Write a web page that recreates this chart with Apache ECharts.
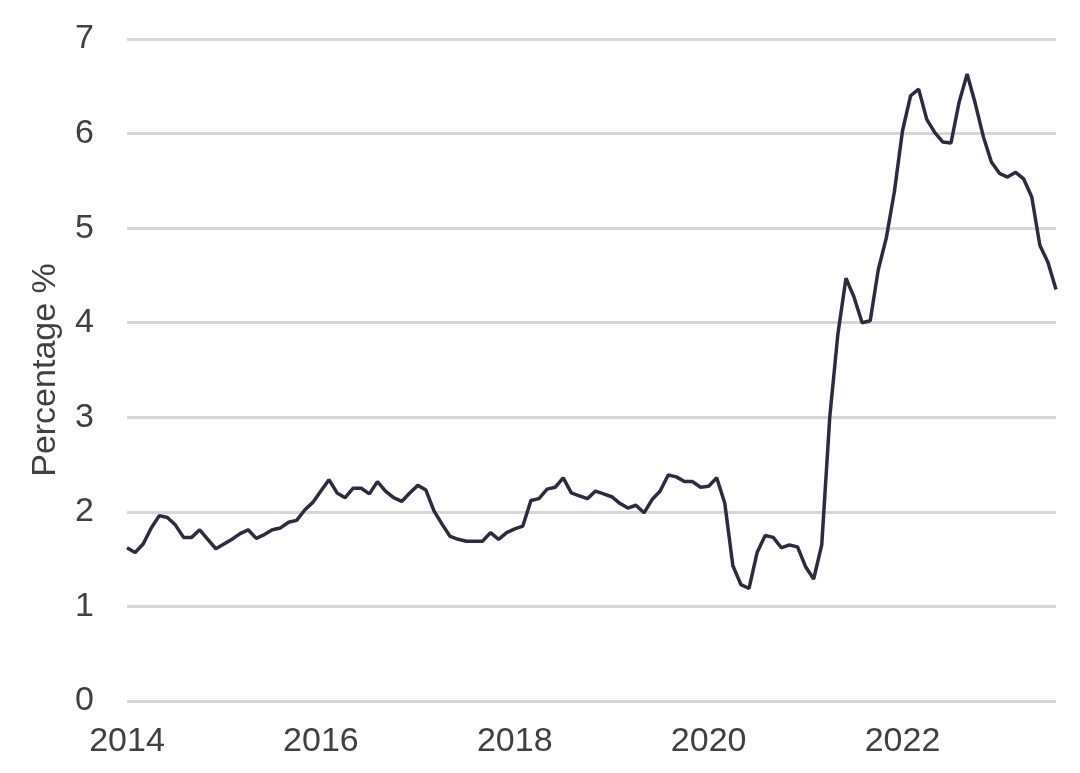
<!DOCTYPE html>
<html>
<head>
<meta charset="utf-8">
<title>Percentage %</title>
<script src="https://cdn.jsdelivr.net/npm/echarts@6/dist/echarts.min.js"></script>
<style>
  html, body { margin: 0; padding: 0; background: #fff; }
  #chart { width: 1080px; height: 773px; }
</style>
</head>
<body>
<div id="chart"></div>
<script>
  // monthly series, Jan 2014 .. Aug 2023
  const startYear = 2014;
  const yearLabels = ['2014', '2016', '2018', '2020', '2022'];
  const values = [
    1.62, 1.57, 1.66, 1.83, 1.96, 1.94, 1.86, 1.73, 1.73, 1.81, 1.71, 1.61,
    1.66, 1.71, 1.77, 1.81, 1.72, 1.76, 1.81, 1.83, 1.89, 1.91, 2.02, 2.10,
    2.22, 2.34, 2.20, 2.15, 2.25, 2.25, 2.19, 2.32, 2.22, 2.15, 2.11, 2.20,
    2.28, 2.23, 2.01, 1.87, 1.74, 1.71, 1.69, 1.69, 1.69, 1.78, 1.71, 1.78,
    1.82, 1.85, 2.12, 2.14, 2.24, 2.26, 2.36, 2.20, 2.17, 2.14, 2.22, 2.19,
    2.16, 2.09, 2.04, 2.07, 1.99, 2.13, 2.22, 2.39, 2.37, 2.32, 2.32, 2.26,
    2.27, 2.36, 2.09, 1.43, 1.23, 1.19, 1.57, 1.75, 1.73, 1.62, 1.65, 1.63,
    1.42, 1.29, 1.65, 3.01, 3.88, 4.47, 4.27, 4.00, 4.02, 4.56, 4.90, 5.39,
    6.03, 6.40, 6.47, 6.15, 6.01, 5.91, 5.90, 6.33, 6.63, 6.32, 5.97, 5.70,
    5.58, 5.54, 5.59, 5.52, 5.33, 4.82, 4.64, 4.35
  ];

  const months = values.map(function (v, i) {
    const y = startYear + Math.floor(i / 12);
    const m = (i % 12) + 1;
    return y + '-' + (m < 10 ? '0' + m : m);
  });

  const textColor = '#404040';
  const font = 'Liberation Sans, Arial, sans-serif';

  const chart = echarts.init(document.getElementById('chart'));
  chart.setOption({
    animation: false,
    grid: { left: 127, right: 24, top: 39, bottom: 72 },
    xAxis: {
      type: 'category',
      data: months,
      boundaryGap: false,
      axisLine: { show: false },
      axisTick: { show: false },
      axisLabel: {
        interval: function (i, v) {
          return v.slice(5) === '01' && yearLabels.indexOf(v.slice(0, 4)) >= 0;
        },
        formatter: function (v) { return v.slice(0, 4); },
        fontSize: 34,
        fontFamily: font,
        color: textColor,
        margin: 24
      },
      splitLine: { show: false }
    },
    yAxis: {
      type: 'value',
      min: 0,
      max: 7,
      interval: 1,
      name: 'Percentage %',
      nameLocation: 'middle',
      nameGap: 64,
      nameTextStyle: { fontSize: 34, fontFamily: font, color: textColor },
      axisLine: { show: false },
      axisTick: { show: false },
      axisLabel: { fontSize: 34, fontFamily: font, color: textColor, margin: 33 },
      splitLine: { lineStyle: { color: '#d6d6d6', width: 3 } }
    },
    series: [{
      type: 'line',
      data: values,
      showSymbol: false,
      lineStyle: { color: '#2c2b3f', width: 3.5 },
      itemStyle: { color: '#2c2b3f' }
    }]
  });
</script>
</body>
</html>
